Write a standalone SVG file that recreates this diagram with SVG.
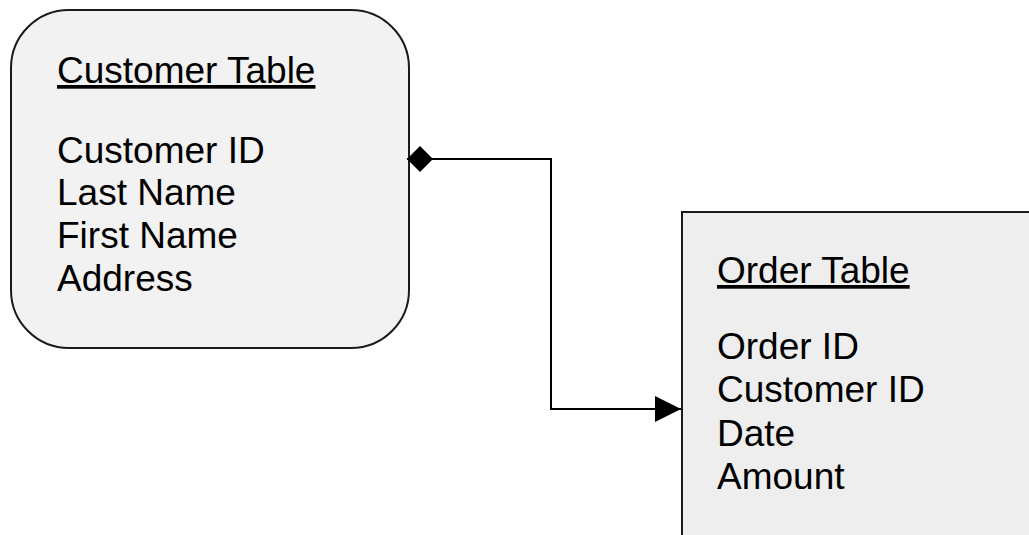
<svg xmlns="http://www.w3.org/2000/svg" width="1029" height="535" viewBox="0 0 1029 535">
<style>
.t{font-family:"Liberation Sans",Arial,sans-serif;font-size:37px;fill:#000}
.h{text-decoration:underline}
.box{stroke:#1a1a1a;stroke-width:2}
.conn{fill:none;stroke:#000;stroke-width:2}
</style>
<defs>
<marker id="dia" markerUnits="userSpaceOnUse" markerWidth="28" markerHeight="28" refX="0" refY="13" orient="auto">
<path d="M0,13 L13,0 L26,13 L13,26 Z" fill="#000"/>
</marker>
<marker id="arr" markerUnits="userSpaceOnUse" markerWidth="28" markerHeight="28" refX="26" refY="13" orient="auto">
<path d="M0,0 L26,13 L0,26 Z" fill="#000"/>
</marker>
</defs>
<rect width="1029" height="535" fill="#fff"/>
<g id="customer">
<rect class="box" x="11" y="10" width="398" height="338" rx="58" ry="58" fill="#f2f2f2"/>
<text class="t h" x="57" y="83">Customer Table</text>
<text class="t" x="57" y="163">Customer ID</text>
<text class="t" x="57" y="205">Last Name</text>
<text class="t" x="57" y="248">First Name</text>
<text class="t" x="57" y="291">Address</text>
</g>
<g id="order">
<rect class="box" x="682" y="212" width="360" height="340" fill="#eeeeee"/>
<text class="t h" x="717" y="283">Order Table</text>
<text class="t" x="717" y="359">Order ID</text>
<text class="t" x="717" y="402">Customer ID</text>
<text class="t" x="717" y="446">Date</text>
<text class="t" x="717" y="489">Amount</text>
</g>
<g id="connectors">
<path class="conn" d="M407,159 H551 V409 H681" marker-start="url(#dia)" marker-end="url(#arr)"/>
</g>
</svg>
